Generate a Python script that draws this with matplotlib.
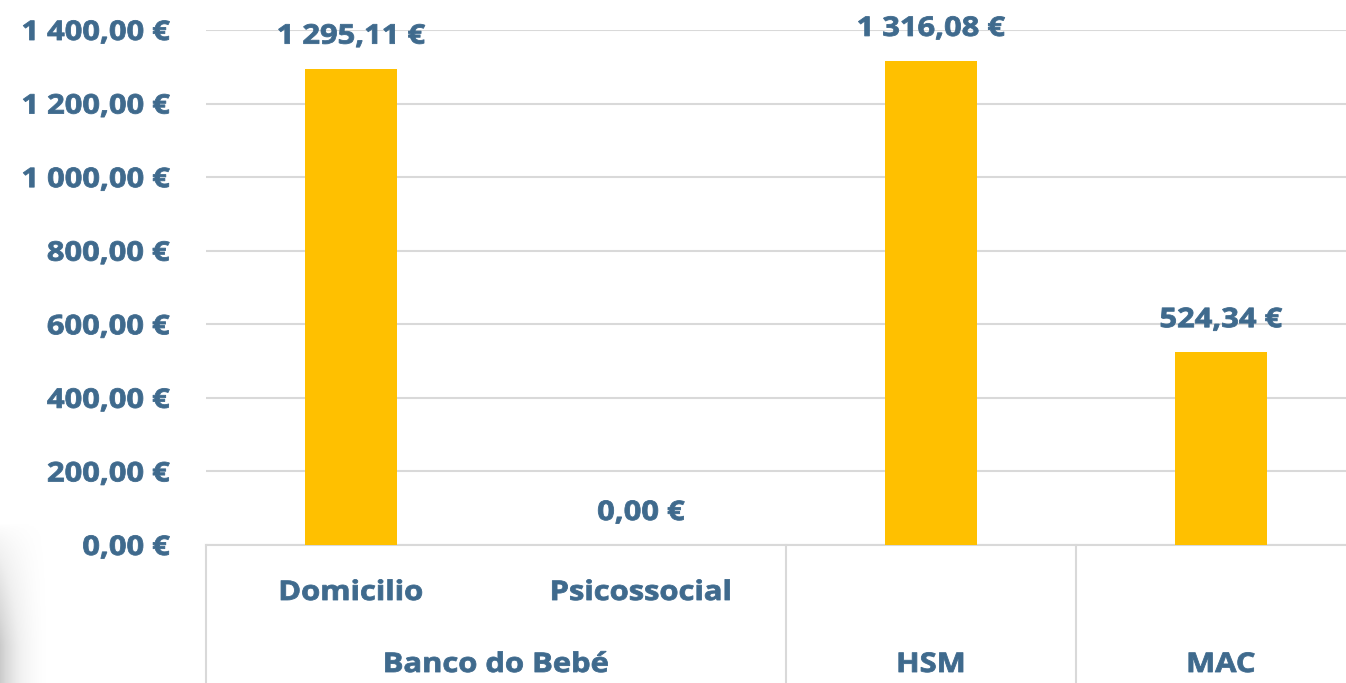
import numpy as np
import matplotlib
matplotlib.use("Agg")
import matplotlib.pyplot as plt
from matplotlib.patheffects import AbstractPathEffect
from matplotlib.transforms import Affine2D

# data
subcats = ["Domicilio", "Psicossocial", "", ""]
groups = ["Banco do Bebé", "HSM", "MAC"]
group_span = [(0, 1), (2, 2), (3, 3)]
values = [1295.11, 0.00, 1316.08, 524.34]
yticks = [0, 200, 400, 600, 800, 1000, 1200, 1400]

TXT = "#3F6A8D"
BAR = "#FFC000"
GRID = "#D9D9D9"

plt.rcParams['font.family'] = ['Open Sans', 'DejaVu Sans']
plt.rcParams['font.weight'] = 'bold'
FS = 19.5


class Wide(AbstractPathEffect):
    # widen the glyphs a little and thicken them, like the Calibri bold of the original
    def __init__(self, sx=1.14, anchor="center", lw=0.6):
        super().__init__()
        self.sx, self.anchor, self.lw = sx, anchor, lw

    def draw_path(self, renderer, gc, tpath, affine, rgbFace=None):
        bb = tpath.get_extents(affine)
        x0 = bb.x1 if self.anchor == "right" else (bb.x0 + bb.x1) / 2
        aff = affine + Affine2D().translate(-x0, 0).scale(self.sx, 1).translate(x0, 0)
        gc0 = renderer.new_gc()
        gc0.copy_properties(gc)
        gc0.set_linewidth(self.lw)
        gc0.set_foreground(rgbFace)
        renderer.draw_path(gc0, tpath, aff, rgbFace)
        gc0.restore()


def euro(v):
    s = f"{v:,.2f}".replace(",", " ").replace(".", ",")
    return s + " €"


fig = plt.figure(figsize=(13.46, 6.83), dpi=100)
W, H = 1346, 683
left, right, top, bottom = 206, 1346, 30, 545
ax = fig.add_axes([left / W, 1 - bottom / H, (right - left) / W, (bottom - top) / H])

x = np.arange(len(values))
ax.bar(x, values, width=0.315, color=BAR, zorder=3)
ax.set_xlim(-0.5, -0.5 + (right - left) / 290)
ax.set_ylim(0, 1400)

ax.set_yticks(yticks)
ax.set_yticklabels([euro(v) for v in yticks], fontsize=FS, color=TXT, fontweight='bold')
for t in ax.get_yticklabels():
    t.set_path_effects([Wide(anchor="right")])
ax.tick_params(axis='y', length=0, pad=26)
ax.set_xticks([])
ax.grid(axis='y', color=GRID, linewidth=1.5, zorder=0)
for s in ["left", "right", "top"]:
    ax.spines[s].set_visible(False)
ax.spines["bottom"].set_color(GRID)
ax.spines["bottom"].set_linewidth(1.5)

# data labels
for xi, v in zip(x, values):
    ax.annotate(euro(v), (xi, v), xytext=(0, 23), textcoords="offset points",
                ha="center", va="center", fontsize=FS, color=TXT, fontweight='bold',
                zorder=4, path_effects=[Wide()])

# multi-level category axis
tr = ax.get_xaxis_transform()
ax_h = bottom - top
y_sub = -(593 - bottom) / ax_h
y_grp = -(665 - bottom) / ax_h
y_end = -(H - bottom) / ax_h
for xi, lab in zip(x, subcats):
    if lab:
        ax.text(xi, y_sub, lab, transform=tr, ha="center", va="center",
                fontsize=FS, color=TXT, fontweight='bold', path_effects=[Wide()])
for g, (a, b) in zip(groups, group_span):
    ax.text((a + b) / 2, y_grp, g, transform=tr, ha="center", va="center",
            fontsize=FS, color=TXT, fontweight='bold', path_effects=[Wide()])
for sx in [-0.5, 1.5, 2.5]:
    ax.plot([sx, sx], [0, y_end], transform=tr, color=GRID, linewidth=1.5,
            clip_on=False)

# soft grey shadow at the bottom-left corner
sh = fig.add_axes([0, 0, 50 / W, 160 / H])
gx = np.linspace(1, 0, 60)
gy = np.linspace(0, 1, 80)
shade = np.outer(np.clip(gy * 1.3, 0, 1) ** 0.7, gx ** 1.8)
sh.imshow(shade, cmap="Greys", vmin=0, vmax=3.2, aspect="auto", origin="upper",
          interpolation="bilinear")
sh.axis("off")

fig.savefig("out.png", dpi=100)
